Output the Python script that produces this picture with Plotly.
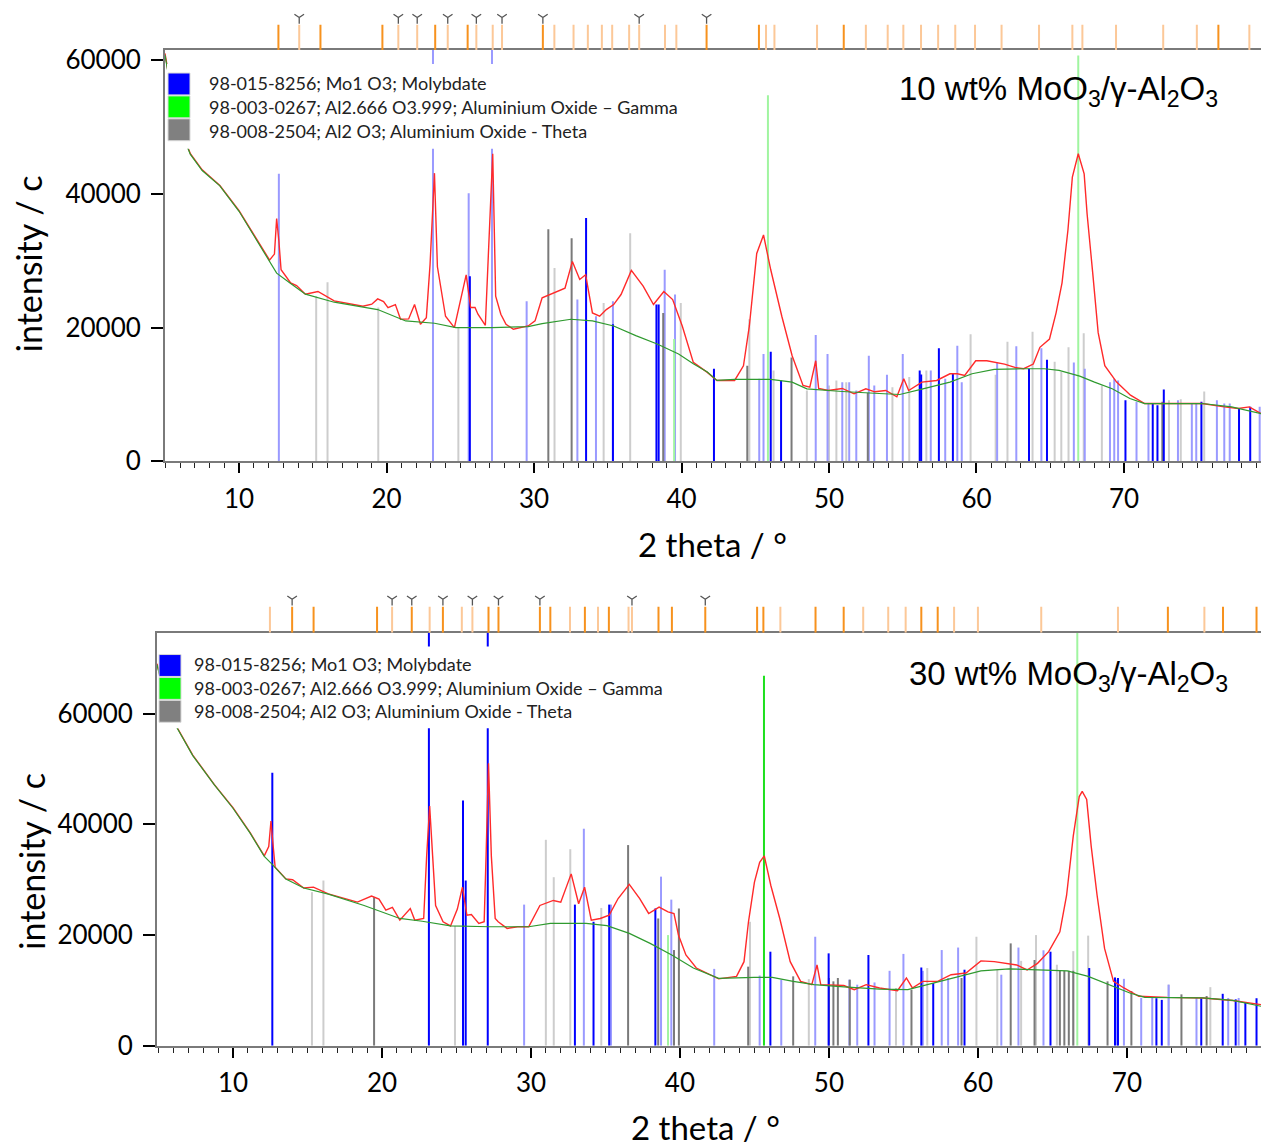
import plotly.graph_objects as go

W, H = 1261, 1147

# ---------------- measured pattern, 10 wt% (top) ----------------
top_tt = [4.98, 5.4, 5.9, 6.7, 7.5, 8.7, 10.0, 11.1, 12.07, 12.4, 12.55, 12.7, 12.85, 13.5, 13.9, 14.5, 15.35, 16.45, 17.5,
          18.4, 19.0, 19.4, 19.8, 20.1, 20.6, 20.95, 21.5, 21.9, 22.3, 22.7, 22.95, 23.15, 23.25, 23.45, 24.0, 24.6,
          24.96, 25.4, 25.7, 26.0, 26.2, 26.7, 27.0, 27.2, 27.4, 27.75, 28.1, 28.6, 29.6, 30.07, 30.55, 31.3, 32.1,
          32.6, 33.1, 33.5, 33.96, 34.45, 34.9, 35.4, 35.9, 36.6, 37.4, 38.1, 38.8, 39.4, 40.05, 40.8, 41.75, 42.4,
          43.6, 44.2, 44.6, 45.1, 45.56, 46.05, 46.8, 47.5, 48.24, 48.7, 49.1, 49.3, 49.95, 50.9, 51.7, 52.5, 53.1,
          53.85, 54.6, 55.07, 55.4, 56.3, 57.3, 58.2, 58.7, 59.2, 59.95, 60.7, 61.9, 62.6, 63.2, 63.85, 64.3, 64.95,
          65.4, 65.8, 66.2, 66.5, 66.9, 67.3, 67.5, 67.9, 68.25, 68.7, 69.5, 70.44, 71.4, 72.9, 75.3, 76.8, 77.75,
          78.5, 79.3]
top_meas = [61000, 55500, 50500, 46000, 43600, 41250, 37500, 33600, 30100, 31000, 36300, 33000, 28650, 26700, 26300,
            25000, 25400, 24000, 23600, 23200, 23500, 24300, 23900, 23000, 23450, 21250, 21300, 23450, 20500, 21500,
            29400, 40000, 43100, 29100, 21700, 20000, 23700, 27900, 23000, 23000, 22000, 20350, 35800, 46000, 24700,
            22000, 20500, 19750, 20250, 21000, 24450, 25200, 25900, 29900, 27200, 27900, 22200, 21700, 22700, 23450,
            24950, 28550, 26200, 23450, 25400, 24200, 20250, 14800, 13300, 12100, 12100, 14300, 20250, 31100, 33850,
            28650, 21700, 15800, 11350, 11100, 15050, 10900, 10600, 10900, 10100, 10850, 10400, 10600, 9650, 12350,
            10600, 11850, 12100, 13100, 13100, 12850, 15050, 15050, 14550, 14050, 13850, 14550, 17050, 18300, 22250,
            26700, 34600, 42500, 46000, 43000, 37000, 27700, 19250, 14300, 11850, 9900, 8650, 8650, 8650, 8150, 7900,
            8150, 7150]
top_bg_tt = [4.98, 5.4, 5.9, 6.7, 7.5, 8.7, 10.0, 11.1, 12.07, 12.55, 13.5, 14.5, 16.45, 19.4, 21.3, 23.26, 24.7,
             27.15, 29.6, 30.55, 32.5, 33.96, 35.4, 36.9, 38.35, 39.8, 40.8, 41.75, 42.4, 43.6, 46.05, 47.5, 48.5,
             50.9, 53.4, 54.8, 56.3, 58.2, 59.7, 61.2, 63.2, 64.6, 65.6, 67.0, 68.0, 69.2, 70.4, 71.4, 75.3, 77.3, 79.3]
top_bg = [60800, 55300, 50300, 45900, 43500, 41200, 37400, 33500, 30000, 28150, 26600, 25000, 23800, 22700, 21000,
          20650, 20000, 20000, 20150, 20600, 21250, 21000, 20250, 18800, 17550, 16050, 14600, 13350, 12100, 12250,
          12250, 11850, 10850, 10450, 10150, 10000, 10800, 11850, 13100, 13750, 13850, 13850, 13600, 12750, 11850,
          10850, 9400, 8650, 8650, 8150, 7150]

# ---------------- measured pattern, 30 wt% (bottom) ----------------
bot_tt = [4.9, 5.4, 6.1, 7.3, 8.75, 10.0, 11.15, 12.1, 12.4, 12.55, 12.7, 12.83, 13.55, 14.0, 14.75, 15.4, 16.4, 18.35,
          19.3, 19.8, 20.26, 20.7, 21.2, 21.9, 22.2, 22.8, 23.0, 23.2, 23.4, 23.6, 24.1, 24.6, 25.06, 25.4, 25.7, 26.0,
          26.5, 26.86, 27.0, 27.15, 27.34, 27.6, 27.8, 28.4, 29.1, 29.85, 30.6, 31.5, 32.0, 32.7, 33.2, 33.6, 34.05,
          34.65, 35.25, 35.85, 36.6, 37.3, 37.9, 38.6, 39.2, 39.6, 39.9, 40.4, 41.1, 41.97, 42.6, 43.8, 44.3, 44.6,
          45.0, 45.35, 45.66, 46.1, 46.7, 47.4, 48.1, 48.85, 49.2, 49.45, 51.0, 51.7, 52.5, 53.4, 54.6, 55.2, 55.6,
          56.3, 57.3, 58.2, 59.2, 60.2, 61.1, 62.6, 63.3, 64.0, 64.75, 65.5, 65.95, 66.4, 66.8, 67.0, 67.3, 67.6,
          68.0, 68.5, 69.1, 69.8, 70.8, 72.7, 75.1, 77.1, 78.5, 79.0]
bot_meas = [69000, 63500, 58200, 52500, 47150, 43000, 38500, 34300, 36000, 40600, 36000, 32250, 30150, 30000, 28500,
            28650, 27450, 25950, 27050, 26500, 24500, 25000, 22700, 24800, 22700, 23000, 34300, 43300, 34300, 25350,
            22400, 21650, 24700, 28650, 23600, 23700, 22100, 22400, 35500, 51000, 34300, 23000, 22400, 21200, 21500,
            21500, 25350, 26250, 25950, 31050, 25650, 28650, 22700, 23000, 23600, 26600, 29150, 26600, 23900, 25050,
            24200, 23900, 20000, 16400, 14050, 12850, 12100, 12550, 15200, 22400, 29550, 33150, 34300, 28950, 23000,
            15200, 11650, 11050, 14600, 11050, 10900, 10150, 11050, 10450, 9950, 12250, 10450, 11650, 11650, 12850,
            13150, 15350, 15200, 14600, 13700, 14900, 17000, 20600, 27150, 37900, 45000, 45950, 44500, 36100, 27150,
            17600, 11650, 10450, 8950, 8750, 8650, 8200, 7600, 7450]
bot_bg_tt = [4.9, 5.4, 6.1, 7.3, 8.75, 10.0, 11.15, 12.1, 12.6, 13.55, 14.75, 16.4, 18.8, 21.2, 22.7, 24.6, 27.2,
             29.85, 31.3, 33.7, 35.1, 36.6, 38.0, 39.45, 40.9, 41.97, 42.6, 45.0, 46.2, 47.6, 49.0, 51.0, 53.4, 55.3,
             57.0, 58.7, 60.2, 62.1, 64.5, 66.0, 67.4, 68.8, 70.2, 71.2, 75.1, 77.1, 79.0]
bot_bg = [68800, 63300, 58100, 52400, 47100, 42900, 38400, 34200, 32850, 30100, 28500, 27400, 25350, 23000, 22500,
          21650, 21500, 21500, 22100, 22100, 21700, 20300, 18500, 16400, 14050, 12850, 12200, 12350, 12350, 11650,
          11050, 10650, 10250, 10150, 11350, 12550, 13550, 13900, 13750, 13550, 12550, 11050, 9550, 8750, 8650,
          8200, 7150]

# ---------------- reference sticks, top ----------------
mo_dark_top_pos = [25.65, 33.53, 35.35, 38.3, 38.45, 42.2, 46.05, 46.75, 56.15, 56.25, 57.45, 58.4, 63.56, 64.78,
                   70.1, 71.95, 72.27, 72.7, 75.25, 77.8, 78.56]
mo_dark_top_int = [27700, 36400, 20500, 23450, 23450, 13850, 16400, 12100, 13600, 13000, 16900, 13100, 13850, 15200,
                   9150, 8650, 8400, 10750, 8900, 7900, 8150]
mo_light_top_pos = [12.7, 23.15, 25.57, 27.15, 29.5, 32.94, 34.2, 35.35, 38.86, 39.56, 45.27, 45.56, 49.1, 49.9,
                    50.9, 51.37, 51.85, 52.7, 53.07, 53.93, 55.0, 56.9, 57.88, 58.7, 59.0, 61.4, 62.7, 64.4, 66.6,
                    67.34, 69.05, 69.34, 69.6, 70.85, 71.66, 73.66, 74.6, 74.9, 76.3, 76.8, 77.17, 79.2]
mo_light_top_int = [43000, 70000, 40100, 70000, 23950, 24200, 21700, 23950, 28650, 24950, 12350, 16050, 18900,
                    16050, 11850, 11850, 10600, 15800, 11350, 12950, 16050, 13600, 12350, 17300, 11850, 14800, 17200,
                    16900, 14800, 13850, 11850, 12350, 12100, 8900, 8650, 9150, 8650, 8650, 9150, 8650, 8650, 8150]
th_dark_top_pos = [30.97, 32.55, 38.76, 44.46, 47.46, 52.63, 72.6]
th_dark_top_int = [34700, 33350, 22200, 14300, 15550, 10250, 8900]
th_light_top_pos = [15.23, 16.0, 19.44, 24.87, 31.39, 34.72, 36.52, 39.95, 44.6, 46.24, 48.5, 50.0, 50.5, 51.17,
                    54.3, 55.44, 56.6, 59.6, 61.3, 62.1, 63.8, 65.3, 65.75, 66.24, 67.27, 68.5, 73.05, 73.85, 75.44]
th_light_top_int = [24700, 26800, 23000, 20000, 28900, 23700, 34100, 23700, 21250, 13600, 10600, 11350, 12100,
                    11850, 11100, 12600, 13600, 19000, 12950, 17900, 19400, 14900, 13350, 17050, 19150, 11350, 9150,
                    9300, 10450]
ga_light_top_pos = [39.5, 45.86, 66.9]
ga_light_top_int = [18300, 54750, 60700]

# ---------------- reference sticks, bottom ----------------
mo_dark_bot_pos = [12.64, 23.15, 25.44, 25.62, 27.1, 32.95, 34.2, 35.25, 38.35, 46.07, 49.98, 52.65, 56.2, 57.0,
                   59.1, 64.87, 67.47, 69.2, 69.4, 71.98, 72.34, 74.99, 76.43, 77.3, 77.95, 78.7]
mo_dark_bot_int = [49300, 80000, 44300, 29850, 80000, 25500, 22400, 25500, 24800, 17000, 16700, 16400, 14150,
                   11350, 13750, 17000, 14050, 12350, 12250, 8600, 8300, 8600, 9400, 8400, 7800, 8600]
mo_light_bot_pos = [29.54, 33.55, 35.37, 38.73, 39.42, 42.3, 45.35, 46.8, 49.08, 51.37, 51.9, 53.06, 54.07, 55.0,
                    56.3, 57.57, 58.0, 58.67, 61.57, 62.72, 64.4, 69.33, 69.8, 70.96, 71.7, 72.8, 74.67, 76.8, 77.5]
mo_light_bot_int = [25500, 39200, 25500, 30550, 26400, 13900, 12700, 11950, 19700, 11950, 11050, 11450, 13550,
                    16600, 13550, 17300, 12250, 17750, 12850, 17750, 17250, 11950, 12100, 8650, 8650, 11050, 8650,
                    8650, 8650]
th_dark_bot_pos = [19.47, 36.52, 38.54, 39.6, 39.93, 44.58, 47.6, 50.0, 50.3, 50.6, 51.4, 55.54, 58.9, 62.2, 63.8,
                   65.5, 65.8, 66.1, 66.4, 68.7, 70.3, 73.66, 75.35]
th_dark_bot_int = [26850, 36250, 23000, 17300, 24800, 14300, 12550, 12250, 11650, 12250, 11950, 10150, 12250,
                   18500, 15500, 13550, 13550, 13550, 13550, 11650, 9900, 9300, 9000]
th_light_bot_pos = [15.3, 16.07, 24.9, 31.0, 31.53, 32.64, 34.72, 44.7, 48.65, 54.5, 56.6, 59.9, 61.3, 62.9, 63.9,
                    65.3, 66.4, 67.4, 72.8, 75.6]
th_light_bot_int = [27750, 29850, 21650, 37200, 30450, 35500, 24900, 22400, 12050, 10450, 14050, 19700, 13750,
                    15350, 20000, 14650, 17100, 19900, 11050, 10600]
ga_dark_bot_pos = [45.64]
ga_dark_bot_int = [66800]
ga_light_bot_pos = [39.2, 66.67]
ga_light_bot_int = [20000, 80000]

# ---------------- peak-list strips ----------------
strip_top_dark = [12.67, 15.52, 19.72, 23.3, 25.5, 30.6, 41.7, 45.25, 51.0, 76.4]
strip_top_light = [14.08, 20.8, 22.08, 24.15, 26.09, 27.2, 27.83, 31.38, 32.68, 33.65, 34.6, 35.3, 36.45, 37.13,
                   38.88, 39.65, 45.73, 46.3, 49.19, 52.5, 53.98, 55.04, 56.24, 57.4, 58.56, 59.9, 61.7, 64.24,
                   66.5, 67.18, 69.46, 72.66, 74.94, 78.5]
strip_top_v = [14.08, 20.8, 22.08, 24.15, 26.09, 27.83, 30.6, 37.13, 41.7]
strip_bot_dark = [13.97, 15.41, 19.67, 22.0, 24.09, 27.15, 27.82, 30.6, 31.3, 33.62, 35.23, 38.56, 39.46, 41.7,
                  45.18, 45.6, 49.1, 50.99, 56.2, 57.3, 72.75, 76.45, 78.7]
strip_bot_light = [12.48, 20.68, 23.2, 25.36, 26.07, 32.62, 34.5, 36.55, 36.78, 46.74, 52.3, 53.98, 55.15, 58.4,
                   60.0, 64.25, 69.4, 75.2]
strip_bot_v = [13.97, 20.68, 22.0, 24.09, 26.07, 27.82, 30.6, 36.78, 41.7]

legend_labels = ["98-015-8256; Mo1 O3; Molybdate",
                 "98-003-0267; Al2.666 O3.999; Aluminium Oxide \u2013 Gamma",
                 "98-008-2504; Al2 O3; Aluminium Oxide - Theta"]
x_ticks = [10, 20, 30, 40, 50, 60, 70]

# ---------------- styling ----------------
C_MO_D, C_MO_L = "#0000ff", "#9a9aff"
C_TH_D, C_TH_L = "#7a7a7a", "#cdcdcd"
C_GA_D, C_GA_L = "#1ee01e", "#a0f5a0"
C_OR_D, C_OR_L = "#f7921e", "#fcc898"
C_RED, C_BG = "#ff2a2a", "#2f9a2f"
AX = "#7a7a7a"
FONT = "Lato"


def fx(px):
    return px / W


def fy(py):
    # vertical pixel position (reference picture) -> paper fraction
    p = (py - 3.7) / 0.985
    return 1 - p / H


def sticks(pos, ints, lo=0.0):
    xs, ys = [], []
    for p, h in zip(pos, ints):
        xs += [p, p, None]
        ys += [lo, h, None]
    return xs, ys


fig = go.Figure()


def add_sticks(pos, ints, color, xa, ya, width=2):
    xs, ys = sticks(pos, ints)
    fig.add_trace(go.Scatter(x=xs, y=ys, mode="lines", line=dict(color=color, width=width),
                             xaxis=xa, yaxis=ya, hoverinfo="skip", showlegend=False))


def add_strip(dark, light, vmarks, xa, ya):
    add_sticks(light, [0.62] * len(light), C_OR_L, xa, ya, 2)
    add_sticks(dark, [0.62] * len(dark), C_OR_D, xa, ya, 2)
    fig.add_trace(go.Scatter(x=vmarks, y=[0.80] * len(vmarks), mode="markers",
                             marker=dict(symbol="y-down-open", size=8, color="#555555",
                                         line=dict(color="#555555", width=1.3)),
                             xaxis=xa, yaxis=ya, hoverinfo="skip", showlegend=False))


# top panel
for pos, ints, col in [(th_light_top_pos, th_light_top_int, C_TH_L), (mo_light_top_pos, mo_light_top_int, C_MO_L),
                       (ga_light_top_pos, ga_light_top_int, C_GA_L), (th_dark_top_pos, th_dark_top_int, C_TH_D),
                       (mo_dark_top_pos, mo_dark_top_int, C_MO_D)]:
    add_sticks(pos, ints, col, "x", "y")
fig.add_trace(go.Scatter(x=top_tt, y=top_meas, mode="lines", line=dict(color=C_RED, width=1.4),
                         xaxis="x", yaxis="y", showlegend=False))
fig.add_trace(go.Scatter(x=top_bg_tt, y=top_bg, mode="lines", line=dict(color=C_BG, width=1.2),
                         xaxis="x", yaxis="y", showlegend=False))
add_strip(strip_top_dark, strip_top_light, strip_top_v, "x2", "y2")

# bottom panel
for pos, ints, col in [(th_light_bot_pos, th_light_bot_int, C_TH_L), (mo_light_bot_pos, mo_light_bot_int, C_MO_L),
                       (ga_light_bot_pos, ga_light_bot_int, C_GA_L), (th_dark_bot_pos, th_dark_bot_int, C_TH_D),
                       (mo_dark_bot_pos, mo_dark_bot_int, C_MO_D), (ga_dark_bot_pos, ga_dark_bot_int, C_GA_D)]:
    add_sticks(pos, ints, col, "x3", "y3")
fig.add_trace(go.Scatter(x=bot_tt, y=bot_meas, mode="lines", line=dict(color=C_RED, width=1.4),
                         xaxis="x3", yaxis="y3", showlegend=False))
fig.add_trace(go.Scatter(x=bot_bg_tt, y=bot_bg, mode="lines", line=dict(color=C_BG, width=1.2),
                         xaxis="x3", yaxis="y3", showlegend=False))
add_strip(strip_bot_dark, strip_bot_light, strip_bot_v, "x4", "y4")

tickfont = dict(family=FONT, size=26, color="black")


def xaxis_main(domain, rng, anchor):
    return dict(domain=domain, range=rng, anchor=anchor, showline=True, linecolor=AX, linewidth=2, mirror=True,
                showgrid=False, zeroline=False, ticks="outside", ticklen=10, tickwidth=2, tickcolor="black",
                tickvals=x_ticks, tickfont=tickfont, ticklabelstandoff=3,
                minor=dict(ticks="outside", dtick=1, tick0=0, ticklen=5, tickwidth=1, tickcolor="#222222"))


def yaxis_main(domain, rng, anchor):
    return dict(domain=domain, range=rng, anchor=anchor, showline=True, linecolor=AX, linewidth=2,
                showgrid=False, zeroline=False, ticks="outside", ticklen=12, tickwidth=2, tickcolor="black",
                dtick=20000, tick0=0, tickformat="d", tickfont=tickfont, ticklabelstandoff=5)


hidden = dict(visible=False, showgrid=False, zeroline=False)

layout = dict(
    width=W, height=H, margin=dict(l=0, r=0, t=0, b=0), paper_bgcolor="white", plot_bgcolor="white",
    showlegend=False,
    xaxis=xaxis_main([fx(165), 1], [4.98, 79.29], "y"),
    yaxis=yaxis_main([fy(460), fy(47)], [0, 61500], "x"),
    xaxis2=dict(domain=[fx(165), 1], matches="x", anchor="y2", **hidden),
    yaxis2=dict(domain=[fy(47), fy(6)], range=[0, 1], anchor="x2", **hidden),
    xaxis3=xaxis_main([fx(157), 1], [4.9, 79.0], "y3"),
    yaxis3=yaxis_main([fy(1047), fy(632)], [0, 74600], "x3"),
    xaxis4=dict(domain=[fx(157), 1], matches="x3", anchor="y4", **hidden),
    yaxis4=dict(domain=[fy(632), fy(590)], range=[0, 1], anchor="x4", **hidden),
)
fig.update_layout(**layout)

shapes = []
annotations = []


def legend_block(x0, y0, x1, y1, sq_x, sq_ys, text_x, text_ys):
    shapes.append(dict(type="rect", xref="paper", yref="paper", x0=fx(x0), x1=fx(x1), y0=fy(y1), y1=fy(y0),
                       fillcolor="white", line=dict(width=0), layer="above"))
    for (ya, yb), col in zip(sq_ys, [C_MO_D, "#00ff00", "#808080"]):
        shapes.append(dict(type="rect", xref="paper", yref="paper", x0=fx(sq_x), x1=fx(sq_x + 22),
                           y0=fy(yb), y1=fy(ya), fillcolor=col, line=dict(color="#d8d8d8", width=1),
                           layer="above"))
    for ty, lab in zip(text_ys, legend_labels):
        annotations.append(dict(xref="paper", yref="paper", x=fx(text_x), y=fy(ty), text=lab, showarrow=False,
                                xanchor="left", yanchor="middle",
                                font=dict(family=FONT, size=18, color="#222222")))


legend_block(167, 61, 692, 146, 168, [(70, 92), (93, 115), (116, 138)], 207, [80, 104, 128])
legend_block(159, 646, 672, 728, 159, [(654, 676), (677, 699), (700, 722)], 192, [663, 688, 711])

sample_font = dict(family="Liberation Sans", size=33, color="black")
annotations.append(dict(xref="paper", yref="paper", x=fx(897), y=fy(88), xanchor="left", yanchor="middle",
                        text="10 wt% MoO<sub>3</sub>/\u03b3-Al<sub>2</sub>O<sub>3</sub>", showarrow=False,
                        font=sample_font))
annotations.append(dict(xref="paper", yref="paper", x=fx(907), y=fy(676), xanchor="left", yanchor="middle",
                        text="30 wt% MoO<sub>3</sub>/\u03b3-Al<sub>2</sub>O<sub>3</sub>", showarrow=False,
                        font=sample_font))

xtitle_font = dict(family=FONT, size=33, color="black")
ytitle_font = dict(family=FONT, size=34, color="black")
annotations.append(dict(xref="paper", yref="paper", x=fx(712), y=fy(543), xanchor="center", yanchor="middle",
                        text="2 theta / \u00b0", showarrow=False, font=xtitle_font))
annotations.append(dict(xref="paper", yref="paper", x=fx(705), y=fy(1128), xanchor="center", yanchor="middle",
                        text="2 theta / \u00b0", showarrow=False, font=xtitle_font))
annotations.append(dict(xref="paper", yref="paper", x=fx(28), y=fy(262), xanchor="center", yanchor="middle",
                        text="intensity / c", textangle=-90, showarrow=False, font=ytitle_font))
annotations.append(dict(xref="paper", yref="paper", x=fx(32), y=fy(862), xanchor="center", yanchor="middle",
                        text="intensity / c", textangle=-90, showarrow=False, font=ytitle_font))

fig.update_layout(shapes=shapes, annotations=annotations)
fig.write_html("out.html")
